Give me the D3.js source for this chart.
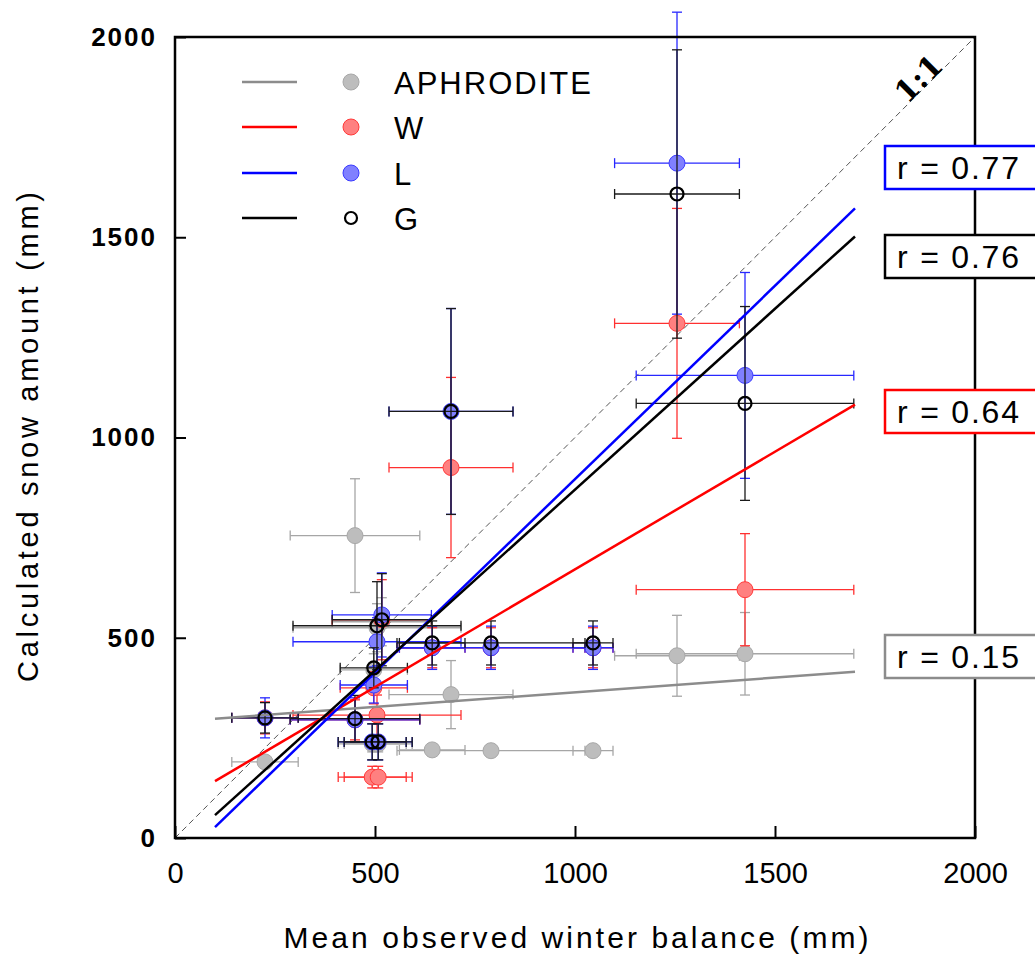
<!DOCTYPE html>
<html>
<head>
<meta charset="utf-8">
<script src="https://cdn.jsdelivr.net/npm/d3@7"></script>
<style>
  body { margin: 0; background: #fff; }
  text { font-family: "Liberation Sans", Arial, sans-serif; }
</style>
</head>
<body>
<div class="container"></div>
<script>
// observed winter balance per glacier (mm) and its spread
const obsX    = [225, 450, 493, 497, 505, 508, 517, 643, 690, 790, 1045, 1255, 1425];
const obsXErr = [83, 162, 85, 84, 210, 85, 124, 82, 155, 235, 50, 156, 272];

// calculated snow amount for each forcing dataset
const aphroY   = [190, 755, 235, 420, 525, 235, 540, 220, 358, 218, 218, 455, 460];
const aphroErr = [15, 142, 20, 40, 60, 20, 60, 15, 85, 15, 15, 101, 103];
const wY       = [300, 295, 152, 375, 307, 152, 545, 475, 925, 475, 475, 1285, 620];
const wErr     = [40, 50, 27, 40, 50, 27, 100, 50, 225, 50, 50, 287, 140];
const lY       = [300, 295, 240, 382, 490, 240, 557, 475, 1065, 475, 475, 1685, 1155];
const lErr     = [50, 55, 45, 45, 60, 45, 105, 54, 257, 54, 54, 377, 257];
const gY       = [300, 298, 240, 425, 530, 240, 545, 487, 1065, 487, 487, 1608, 1085];
const gErr     = [38, 58, 45, 50, 110, 45, 115, 55, 257, 55, 55, 360, 242];

// regression lines (end points)
const fitX     = [100, 1700];
const aphroFit = [298, 415];
const wFit     = [142, 1082];
const lFit     = [27, 1572];
const gFit     = [57, 1502];

const seriesNames = ["APHRODITE", "W", "L", "G"];
const rValues     = ["0.15", "0.64", "0.77", "0.76"];
const tickValues  = [0, 500, 1000, 1500, 2000];

const w = 1035;
const h = 957;

const xScale = d3.scaleLinear().domain([0, 2000]).range([175, 975]);
const yScale = d3.scaleLinear().domain([0, 2000]).range([838, 37]);

const series = [
  { name: seriesNames[0], y: aphroY, err: aphroErr, fit: aphroFit, r: rValues[0],
    line: "#8c8c8c", bar: "#a6a6a6", fill: "#bdbdbd", stroke: "#a8a8a8", box: "#8c8c8c", boxY: 656 },
  { name: seriesNames[1], y: wY, err: wErr, fit: wFit, r: rValues[1],
    line: "#ff0000", bar: "#ff3030", fill: "#ff8080", stroke: "#ff3a3a", box: "#ff0000", boxY: 411 },
  { name: seriesNames[2], y: lY, err: lErr, fit: lFit, r: rValues[2],
    line: "#0000ff", bar: "#2828ff", fill: "#8080ff", stroke: "#3a3aff", box: "#0000ff", boxY: 167 },
  { name: seriesNames[3], y: gY, err: gErr, fit: gFit, r: rValues[3],
    line: "#000000", bar: "#1a1a1a", fill: "none", stroke: "#000000", box: "#000000", boxY: 256 }
];

const svg = d3.select(".container")
  .append("svg")
  .attr("width", w)
  .attr("height", h);

svg.append("rect").attr("width", w).attr("height", h).attr("fill", "#fff");

const clip = svg.append("clipPath").attr("id", "plot-clip");
clip.append("rect").attr("x", 175).attr("y", 37).attr("width", 800).attr("height", 801);

const plot = svg.append("g");

// 1:1 line
plot.append("line")
  .attr("clip-path", "url(#plot-clip)")
  .attr("x1", xScale(0)).attr("y1", yScale(0))
  .attr("x2", xScale(2000)).attr("y2", yScale(2000))
  .attr("stroke", "#555")
  .attr("stroke-width", 1)
  .attr("stroke-dasharray", "6,4");

const cap = 5;

// error bars and points, one series after the other
series.forEach((s) => {
  const g = plot.append("g");
  const rows = obsX.map((x, i) => [x, obsXErr[i], s.y[i], s.err[i]]);

  const bars = g.selectAll(".eb").data(rows).enter().append("g")
    .attr("stroke", s.bar)
    .attr("stroke-width", 1.3)
    .attr("fill", "none");

  bars.append("line")
    .attr("x1", (d) => xScale(d[0] - d[1])).attr("x2", (d) => xScale(d[0] + d[1]))
    .attr("y1", (d) => yScale(d[2])).attr("y2", (d) => yScale(d[2]));
  bars.append("line")
    .attr("x1", (d) => xScale(d[0])).attr("x2", (d) => xScale(d[0]))
    .attr("y1", (d) => yScale(d[2] - d[3])).attr("y2", (d) => yScale(d[2] + d[3]));
  bars.append("line")
    .attr("x1", (d) => xScale(d[0] - d[1])).attr("x2", (d) => xScale(d[0] - d[1]))
    .attr("y1", (d) => yScale(d[2]) - cap).attr("y2", (d) => yScale(d[2]) + cap);
  bars.append("line")
    .attr("x1", (d) => xScale(d[0] + d[1])).attr("x2", (d) => xScale(d[0] + d[1]))
    .attr("y1", (d) => yScale(d[2]) - cap).attr("y2", (d) => yScale(d[2]) + cap);
  bars.append("line")
    .attr("x1", (d) => xScale(d[0]) - cap).attr("x2", (d) => xScale(d[0]) + cap)
    .attr("y1", (d) => yScale(d[2] - d[3])).attr("y2", (d) => yScale(d[2] - d[3]));
  bars.append("line")
    .attr("x1", (d) => xScale(d[0]) - cap).attr("x2", (d) => xScale(d[0]) + cap)
    .attr("y1", (d) => yScale(d[2] + d[3])).attr("y2", (d) => yScale(d[2] + d[3]));

  if (s.fill !== "none") {
    g.selectAll("circle").data(rows).enter().append("circle")
      .attr("cx", (d) => xScale(d[0]))
      .attr("cy", (d) => yScale(d[2]))
      .attr("r", 8)
      .attr("fill", s.fill)
      .attr("stroke", s.stroke)
      .attr("stroke-width", 1);
  }
});

// regression lines
series.forEach((s) => {
  plot.append("line")
    .attr("x1", xScale(fitX[0])).attr("y1", yScale(s.fit[0]))
    .attr("x2", xScale(fitX[1])).attr("y2", yScale(s.fit[1]))
    .attr("stroke", s.line)
    .attr("stroke-width", 2.5);
});

// hollow G markers on top
plot.selectAll(".gpt").data(obsX.map((x, i) => [x, gY[i]])).enter().append("circle")
  .attr("cx", (d) => xScale(d[0]))
  .attr("cy", (d) => yScale(d[1]))
  .attr("r", 6.5)
  .attr("fill", "none")
  .attr("stroke", "#000")
  .attr("stroke-width", 2.2);

// axes, ticks pointing inward
const xAxis = d3.axisBottom(xScale).tickValues(tickValues).tickFormat(d3.format("d"))
  .tickSizeInner(-12).tickSizeOuter(0).tickPadding(24);
const yAxis = d3.axisLeft(yScale).tickValues(tickValues).tickFormat(d3.format("d"))
  .tickSizeInner(-11).tickSizeOuter(0).tickPadding(18);

const gx = svg.append("g")
  .attr("transform", "translate(0," + 838 + ")")
  .call(xAxis);
gx.select(".domain").remove();
gx.selectAll("line").attr("stroke", "#000").attr("stroke-width", 2);
gx.selectAll("text")
  .attr("fill", "#000")
  .style("font-size", "29px");

const gy = svg.append("g")
  .attr("transform", "translate(175,0)")
  .call(yAxis);
gy.select(".domain").remove();
gy.selectAll("line").attr("stroke", "#000").attr("stroke-width", 2);
gy.selectAll("text")
  .attr("fill", "#000")
  .style("font-size", "26px")
  .style("font-weight", "bold")
  .style("letter-spacing", "2px");

svg.append("rect")
  .attr("x", 175).attr("y", 37)
  .attr("width", 800).attr("height", 801)
  .attr("fill", "none")
  .attr("stroke", "#000")
  .attr("stroke-width", 2.5);

// 1:1 label
svg.append("text")
  .attr("transform", "translate(" + (xScale(1850) + 11) + "," + (yScale(1850) - 11) + ") rotate(-45)")
  .attr("text-anchor", "middle")
  .style("font-size", "30px")
  .style("font-weight", "bold")
  .style("font-family", "'DejaVu Serif', serif")
  .text("1:1");

// r boxes
series.forEach((s) => {
  svg.append("rect")
    .attr("x", 885).attr("y", s.boxY - 21)
    .attr("width", 160).attr("height", 43)
    .attr("fill", "#fff")
    .attr("stroke", s.box)
    .attr("stroke-width", 2.5);
  svg.append("text")
    .attr("x", 897).attr("y", s.boxY + 12)
    .style("font-size", "32px")
    .style("letter-spacing", "1.8px")
    .text("r = " + s.r);
});

// legend
const legend = svg.append("g").attr("id", "legend");
const legendRows = [82, 127, 173, 218];
series.forEach((s, i) => {
  const ly = legendRows[i];
  legend.append("line")
    .attr("x1", 242).attr("x2", 297)
    .attr("y1", ly).attr("y2", ly)
    .attr("stroke", s.line)
    .attr("stroke-width", 2.5);
  if (s.fill === "none") {
    legend.append("circle")
      .attr("cx", 351).attr("cy", ly).attr("r", 6)
      .attr("fill", "none").attr("stroke", "#000").attr("stroke-width", 2.2);
  } else {
    legend.append("circle")
      .attr("cx", 351).attr("cy", ly).attr("r", 8)
      .attr("fill", s.fill).attr("stroke", s.stroke).attr("stroke-width", 1);
  }
  legend.append("text")
    .attr("x", 394).attr("y", ly + 12)
    .style("font-size", "31px")
    .style("letter-spacing", "2px")
    .text(s.name);
});

// axis titles
svg.append("text")
  .attr("transform", "translate(38,437) rotate(-90)")
  .attr("text-anchor", "middle")
  .attr("textLength", 490)
  .attr("lengthAdjust", "spacing")
  .style("font-size", "29px")
  .text("Calculated snow amount (mm)");

svg.append("text")
  .attr("x", 576).attr("y", 948)
  .attr("text-anchor", "middle")
  .attr("textLength", 585)
  .attr("lengthAdjust", "spacing")
  .style("font-size", "30px")
  .text("Mean observed winter balance (mm)");
</script>
</body>
</html>
